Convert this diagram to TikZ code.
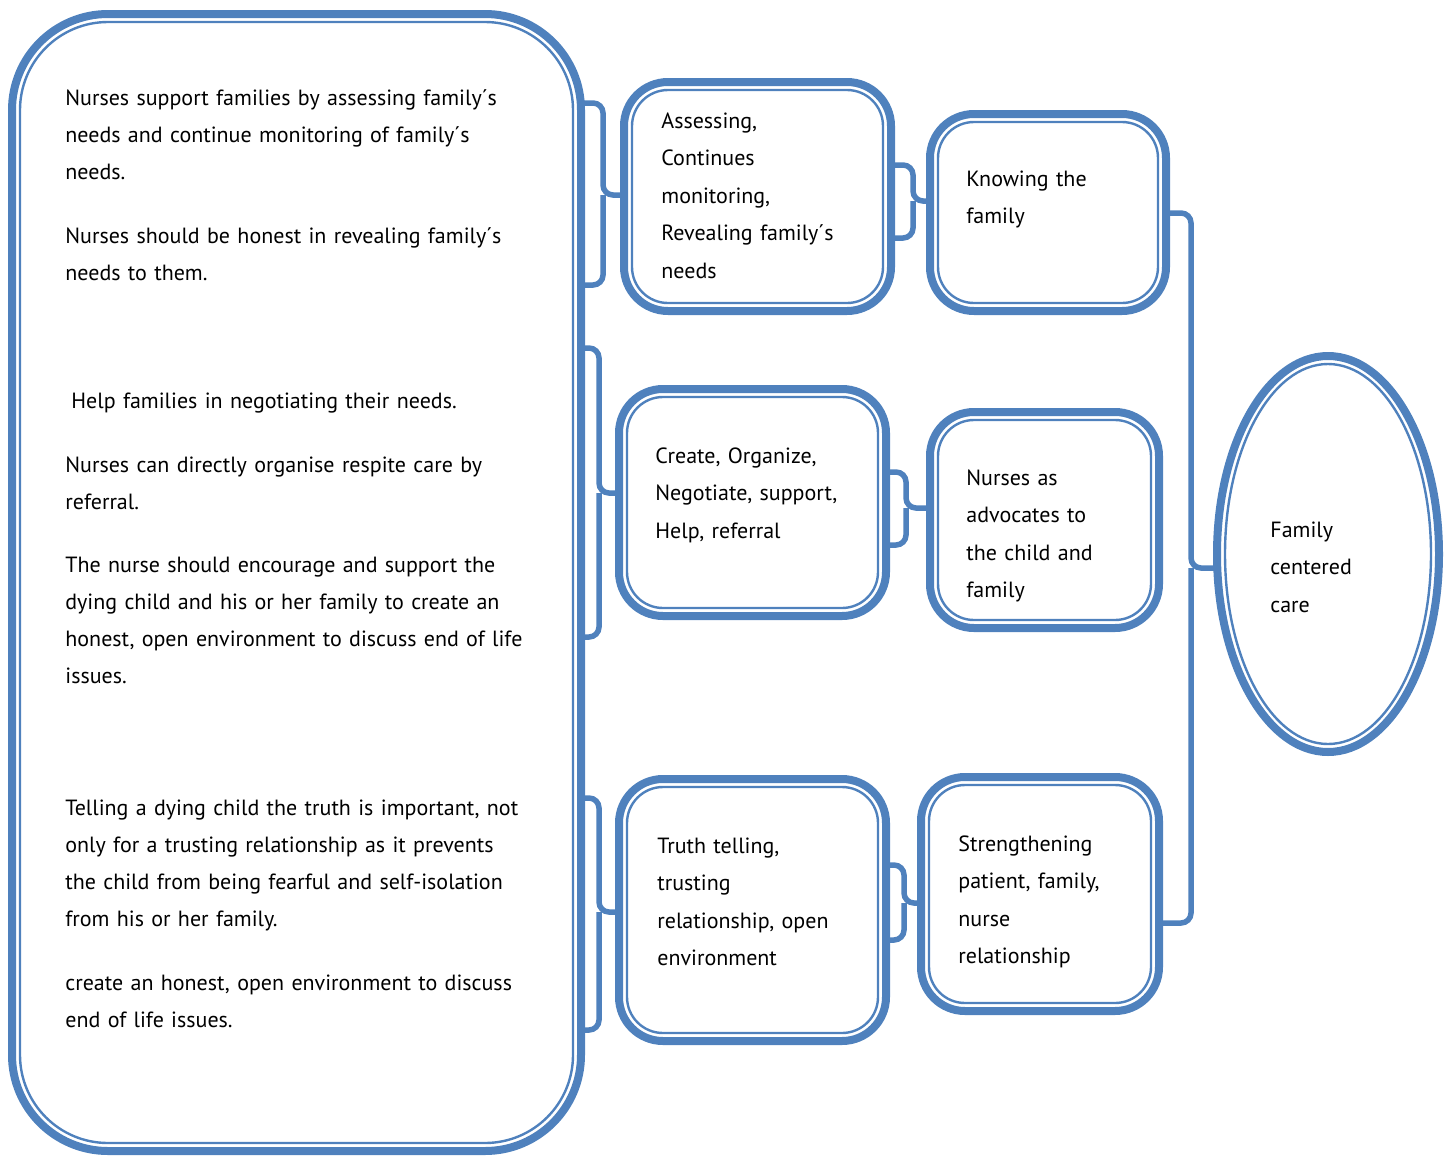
\documentclass[tikz,border=0pt]{standalone}
\usepackage{fontspec}
\setmainfont{PT Sans}
\usetikzlibrary{positioning, shapes.geometric}
\definecolor{bl}{HTML}{4F81BD}

\begin{document}
\begin{tikzpicture}[x=0.5pt, y=-0.5pt,
    box/.style={draw=bl, line width=4pt, rounded corners=22pt, outer sep=0pt, inner sep=0pt},
    inner/.style={draw=bl, line width=1.2pt, rounded corners=18pt},
    brace/.style={draw=bl, line width=2.75pt, rounded corners=5pt},
    txt/.style={inner sep=0pt, align=left, text width=#1, font=\fontsize{11}{18.8}\selectfont},
    bigtext/.style={inner sep=0pt, align=left, text width=280pt, font=\fontsize{11}{18.5}\selectfont}]
    \useasboundingbox (0,0) rectangle (1451,1157);
    % boxes
    \node[box, minimum width=284.5pt, minimum height=568.5pt, rounded corners=48pt] (big) at (296.5,582.5) {};
    \node[box, minimum width=133.5pt, minimum height=114.5pt] (a1) at (757.5,196.5) {};
    \node[box, minimum width=133.5pt, minimum height=113.5pt] (a2) at (752.5,502.5) {};
    \node[box, minimum width=133.5pt, minimum height=131pt]   (a3) at (752.5,910)   {};
    \node[box, minimum width=118pt,   minimum height=98.5pt]  (b1) at (1048,212.5)  {};
    \node[box, minimum width=114.5pt, minimum height=108pt]   (b2) at (1044.5,520)  {};
    \node[box, minimum width=119pt,   minimum height=117pt]   (b3) at (1040,894)    {};
    \node[draw=bl, line width=4pt, ellipse, minimum width=111pt, minimum height=198pt,
          inner sep=0pt, outer sep=0pt] (fcc) at (1328,554) {};
    % inner lines
    \foreach \n in {a1,a2,a3,b1,b2,b3}
        \draw[inner] ([shift={(8,-8)}]\n.south west) rectangle ([shift={(-8,8)}]\n.north east);
    \draw[inner, rounded corners=44pt] ([shift={(8,-8)}]big.south west) rectangle ([shift={(-8,8)}]big.north east);
    \draw[inner] (fcc.center) ellipse (103 and 190);
    % braces
    \draw[brace] (big.east |- 0,103) -| (603,195) -- (a1.west |- 0,195) (603,195) |- (big.east |- 0,285);
    \draw[brace] (a1.east |- 0,165) -| (913,201) -- (b1.west |- 0,201) (913,201) |- (a1.east |- 0,238);
    \draw[brace] (big.east |- 0,348) -| (599,493) -- (a2.west |- 0,493) (599,493) |- (big.east |- 0,637);
    \draw[brace] (a2.east |- 0,472) -| (906,508) -- (b2.west |- 0,508) (906,508) |- (a2.east |- 0,545);
    \draw[brace] (big.east |- 0,798) -| (599,912) -- (a3.west |- 0,912) (599,912) |- (big.east |- 0,1030);
    \draw[brace] (a3.east |- 0,865) -| (904,903) -- (b3.west |- 0,903) (904,903) |- (a3.east |- 0,940);
    \draw[brace] (b1.east |- 0,213) -| (1191,568) -- (fcc.west |- 0,568) (1191,568) |- (b3.east |- 0,923);
    % texts
    \node[bigtext, anchor=base west] (tbig) at (65,105) {Nurses support families by assessing family´s\\
        needs and continue monitoring of family´s\\
        needs.\\[13.5pt]
        Nurses should be honest in revealing family´s\\
        needs to them.\\[45.5pt]
        \hspace*{3pt}Help families in negotiating their needs.\\[13.5pt]
        Nurses can directly organise respite care by\\
        referral.\\[13pt]
        The nurse should encourage and support the\\
        dying child and his or her family to create an\\
        honest, open environment to discuss end of life\\
        issues.\\[47.5pt]
        Telling a dying child the truth is important, not\\
        only for a trusting relationship as it prevents\\
        the child from being fearful and self-isolation\\
        from his or her family.\\[13.5pt]
        create an honest, open environment to discuss\\
        end of life issues.};
    \node[txt=120pt, anchor=base west] (ta1) at (661,128) {Assessing,\\Continues\\monitoring,\\Revealing family´s\\needs};
    \node[txt=120pt, anchor=base west] (ta2) at (655,463) {Create, Organize,\\Negotiate, support,\\Help, referral};
    \node[txt=120pt, anchor=base west] (ta3) at (657,853) {Truth telling,\\trusting\\relationship, open\\environment};
    \node[txt=100pt, anchor=base west] (tb1) at (966,186) {Knowing the\\family};
    \node[txt=100pt, anchor=base west] (tb2) at (966,485) {Nurses as\\advocates to\\the child and\\family};
    \node[txt=100pt, anchor=base west] (tb3) at (958,851) {Strengthening\\patient, family,\\nurse\\relationship};
    \node[txt=60pt,  anchor=base west] (tfcc) at (1270,537) {Family\\centered\\care};
\end{tikzpicture}
\end{document}
